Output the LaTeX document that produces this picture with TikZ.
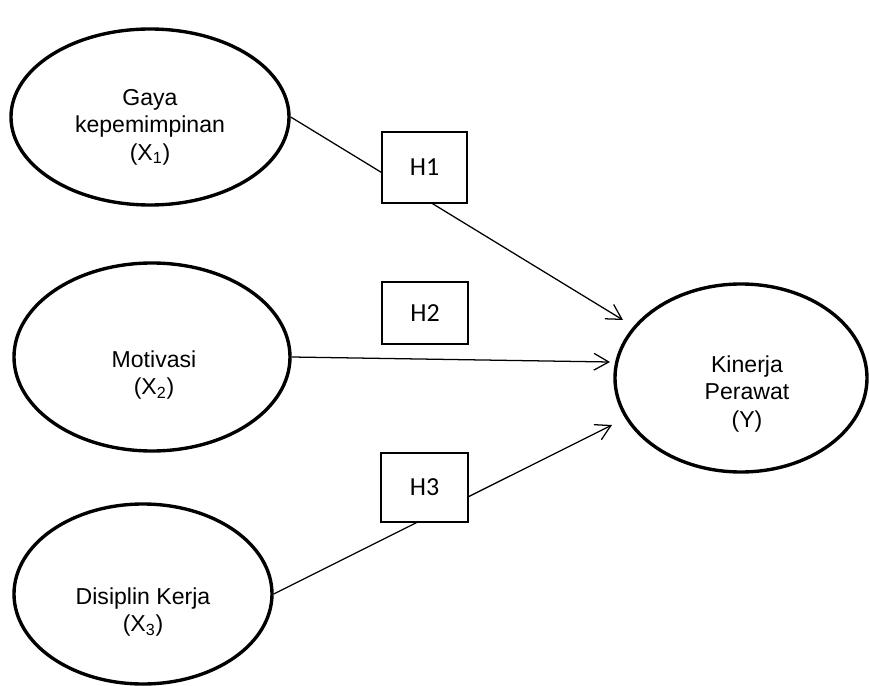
\documentclass[tikz,border=0pt]{standalone}
\usepackage{fontspec}
\setmainfont{Liberation Sans}
\newfontfamily\boxfont{Carlito}
\usetikzlibrary{shapes}
\usetikzlibrary{arrows.meta}
\tikzset{
	varnode/.style = {
		ellipse,
		draw=black,
		line width=2.4pt,
		fill=white,
		inner sep=0pt
	},
	vartext/.style = {
		align=center,
		inner sep=0pt,
		font=\fontsize{16.4}{19.6}\selectfont
	},
	hypnode/.style = {
		rectangle,
		draw=black,
		line width=1.3pt,
		fill=white,
		inner sep=0pt,
		font=\boxfont\fontsize{18.5}{20}\selectfont
	},
	pathline/.style = {
		line width=0.9pt
	}
}

\begin{document}
\begin{tikzpicture}[->,>={Straight Barb[length=3.7mm,width=4.2mm]}]
\useasboundingbox (0,0) rectangle (21.725,-17.15);
\node [varnode, minimum width=6.95cm, minimum height=4.4cm] (gaya) at (3.75,-2.925) {};
\node [varnode, minimum width=6.9cm, minimum height=4.7cm] (motivasi) at (3.8,-8.925) {};
\node [varnode, minimum width=6.45cm, minimum height=4.5cm] (disiplin) at (3.575,-14.85) {};
\node [varnode, minimum width=6.3cm, minimum height=4.7cm] (kinerja) at (18.525,-9.45) {};
\node [vartext] (gayatext) at ([yshift=-0.25cm]gaya.center) {Gaya\\kepemimpinan\\(X\textsubscript{1})};
\node [vartext] (motivasitext) at ([xshift=0.05cm,yshift=-0.45cm]motivasi.center) {Motivasi\\(X\textsubscript{2})};
\node [vartext] (disiplintext) at ([yshift=-0.45cm]disiplin.center) {Disiplin Kerja\\(X\textsubscript{3})};
\node [vartext] (kinerjatext) at ([xshift=0.15cm,yshift=-0.4cm]kinerja.center) {Kinerja\\Perawat\\(Y)};
\coordinate (tip1) at (15.575,-8.0);
\coordinate (tip2) at (15.25,-9.05);
\coordinate (tip3) at (15.3,-10.625);
\draw [pathline] (gaya.east) -- (tip1);
\draw [pathline] (motivasi.east) -- (tip2);
\draw [pathline] (disiplin.east) -- (tip3);
\node [hypnode, minimum width=2.125cm, minimum height=1.775cm] (h1) at (10.6125,-4.1875) {H1};
\node [hypnode, minimum width=2.15cm, minimum height=1.55cm] (h2) at (10.625,-7.825) {H2};
\node [hypnode, minimum width=2.175cm, minimum height=1.725cm] (h3) at (10.6125,-12.1875) {H3};
\end{tikzpicture}
\end{document}
